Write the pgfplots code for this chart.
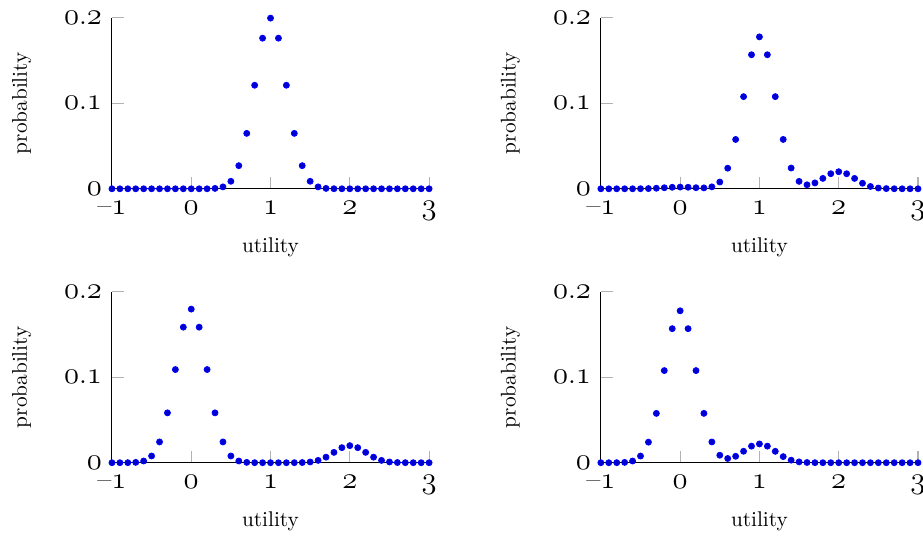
\documentclass[border=0pt]{standalone}
\usepackage{pgfplots}
\usepackage{pgfplotstable}
\pgfplotsset{compat=1.18}
\usepgfplotslibrary{groupplots}
\newcommand\osf[1]{{\usefont{OML}{cmm}{m}{it}#1}}

\pgfplotstableread{
x y
-1.0 0
-0.9 0
-0.8 0
-0.7 0
-0.6 0
-0.5 0
-0.4 0
-0.3 0
-0.2 0
-0.1 0
0.0 0
0.1 0
0.2 0
0.3 0.00044
0.4 0.00222
0.5 0.00876
0.6 0.02700
0.7 0.06476
0.8 0.12099
0.9 0.17603
1.0 0.19947
1.1 0.17603
1.2 0.12099
1.3 0.06476
1.4 0.02700
1.5 0.00876
1.6 0.00222
1.7 0.00044
1.8 0.00007
1.9 0
2.0 0
2.1 0
2.2 0
2.3 0
2.4 0
2.5 0
2.6 0
2.7 0
2.8 0
2.9 0
3.0 0
}\tabA

\pgfplotstableread{
x y
-1.0 0
-0.9 0
-0.8 0
-0.7 0
-0.6 0.00002
-0.5 0.00009
-0.4 0.00027
-0.3 0.00065
-0.2 0.00121
-0.1 0.00176
0.0 0.00199
0.1 0.00177
0.2 0.00127
0.3 0.00104
0.4 0.00225
0.5 0.00789
0.6 0.02405
0.7 0.05764
0.8 0.10768
0.9 0.15667
1.0 0.17753
1.1 0.15667
1.2 0.10769
1.3 0.05768
1.4 0.02425
1.5 0.00868
1.6 0.00468
1.7 0.00687
1.8 0.01216
1.9 0.01761
2.0 0.01995
2.1 0.01760
2.2 0.01210
2.3 0.00648
2.4 0.00270
2.5 0.00088
2.6 0.00022
2.7 0.00004
2.8 0
2.9 0
3.0 0
}\tabB

\pgfplotstableread{
x y
-1.0 0
-0.9 0.00001
-0.8 0.00006
-0.7 0.00040
-0.6 0.00200
-0.5 0.00788
-0.4 0.02430
-0.3 0.05828
-0.2 0.10889
-0.1 0.15843
0.0 0.17952
0.1 0.15843
0.2 0.10889
0.3 0.05828
0.4 0.02430
0.5 0.00788
0.6 0.00200
0.7 0.00040
0.8 0.00006
0.9 0.00001
1.0 0
1.1 0
1.2 0
1.3 0.00004
1.4 0.00022
1.5 0.00088
1.6 0.00270
1.7 0.00648
1.8 0.01210
1.9 0.01760
2.0 0.01995
2.1 0.01760
2.2 0.01210
2.3 0.00648
2.4 0.00270
2.5 0.00088
2.6 0.00022
2.7 0.00004
2.8 0
2.9 0
3.0 0
}\tabC

\pgfplotstableread{
x y
-1.0 0
-0.9 0.00001
-0.8 0.00006
-0.7 0.00039
-0.6 0.00198
-0.5 0.00780
-0.4 0.02403
-0.3 0.05764
-0.2 0.10768
-0.1 0.15667
0.0 0.17753
0.1 0.15667
0.2 0.10769
0.3 0.05769
0.4 0.02427
0.5 0.00876
0.6 0.00495
0.7 0.00751
0.8 0.01337
0.9 0.01937
1.0 0.02194
1.1 0.01936
1.2 0.01331
1.3 0.00712
1.4 0.00297
1.5 0.00096
1.6 0.00024
1.7 0.00005
1.8 0.00001
1.9 0
2.0 0
2.1 0
2.2 0
2.3 0
2.4 0
2.5 0
2.6 0
2.7 0
2.8 0
2.9 0
3.0 0
}\tabD

\begin{document}
\begin{tikzpicture}
\begin{groupplot}[
  group style={group size=2 by 2, horizontal sep=80.7pt, vertical sep=48.3pt},
  width=149pt, height=80.4pt, scale only axis,
  xmin=-1, xmax=3, ymin=0, ymax=0.2,
  axis x line*=bottom, axis y line*=left,
  axis line style={black, line width=0.5pt},
  xtick={-1,0,1,2,3},
  xticklabels={\textendash\osf{1},\osf{0},\osf{1},\osf{2},\osf{3}},
  ytick={0,0.1,0.2},
  yticklabels={\osf{0},\osf{0}.\osf{1},\osf{0}.\osf{2}},
  tick align=inside, major tick length=5.6pt,
  tick style={gray!60, line width=0.5pt},
  tick label style={font=\fontsize{13.5}{16}\selectfont, inner sep=1pt},
  x tick label style={yshift=-4.5pt},
  y tick label style={xshift=-3.5pt},
  xlabel={utility}, ylabel={probability},
  xlabel style={at={([yshift=-30pt]axis description cs:0.5,0)}, anchor=base},
  ylabel style={at={([xshift=-40pt]axis description cs:0,0.5)}, anchor=base},
  clip=false,
]
\nextgroupplot
\addplot[only marks, mark=*, mark size=1.4pt, blue, mark options={fill=blue!80!black}] table[x=x,y=y] {\tabA};
\nextgroupplot
\addplot[only marks, mark=*, mark size=1.4pt, blue, mark options={fill=blue!80!black}] table[x=x,y=y] {\tabB};
\nextgroupplot
\addplot[only marks, mark=*, mark size=1.4pt, blue, mark options={fill=blue!80!black}] table[x=x,y=y] {\tabC};
\nextgroupplot
\addplot[only marks, mark=*, mark size=1.4pt, blue, mark options={fill=blue!80!black}] table[x=x,y=y] {\tabD};
\end{groupplot}
\pgfresetboundingbox
\path ([xshift=-52.6pt,yshift=8.3pt]group c1r1.north west) rectangle ([xshift=2.35pt,yshift=-35.4pt]group c2r2.south east);
\end{tikzpicture}
\end{document}
